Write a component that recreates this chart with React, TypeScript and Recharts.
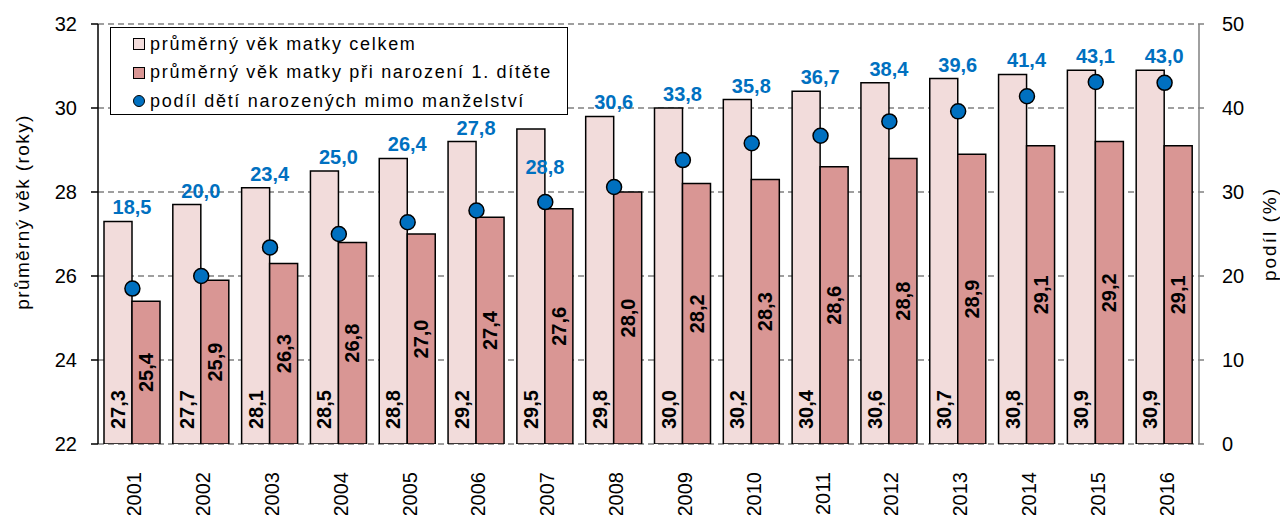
import { ComposedChart, Bar, Line, XAxis, YAxis, CartesianGrid, Legend, LabelList } from 'recharts';

const YEARS = ['2001', '2002', '2003', '2004', '2005', '2006', '2007', '2008', '2009', '2010', '2011', '2012', '2013', '2014', '2015', '2016'];
const MEAN_AGE = [27.3, 27.7, 28.1, 28.5, 28.8, 29.2, 29.5, 29.8, 30.0, 30.2, 30.4, 30.6, 30.7, 30.8, 30.9, 30.9];
const FIRST_CHILD_AGE = [25.4, 25.9, 26.3, 26.8, 27.0, 27.4, 27.6, 28.0, 28.2, 28.3, 28.6, 28.8, 28.9, 29.1, 29.2, 29.1];
const OUTSIDE_MARRIAGE = [18.5, 20.0, 23.4, 25.0, 26.4, 27.8, 28.8, 30.6, 33.8, 35.8, 36.7, 38.4, 39.6, 41.4, 43.1, 43.0];
const LEFT_TICKS = [22, 24, 26, 28, 30, 32];
const RIGHT_TICKS = [0, 10, 20, 30, 40, 50];
const EDGE_TICKS = [0, 1, 2, 3, 4, 5, 6, 7, 8, 9, 10, 11, 12, 13, 14, 15, 16];

const FONT = '"Liberation Sans", Arial, sans-serif';
const LIGHT = '#F2DCDB';
const DARK = '#D99694';
const BLUE = '#0070C0';

// legend box sits inside the plot, top left
const LEGEND_BOX = { left: 110, top: 27, width: 458, height: 88 };

const fmt = (v: number) => Number(v).toFixed(1).replace('.', ',');

const data = YEARS.map((year, i) => ({
    year,
    mean: MEAN_AGE[i],
    first: FIRST_CHILD_AGE[i],
    share: OUTSIDE_MARRIAGE[i],
}));

const LEGEND_ITEMS = [
    { label: 'průměrný věk matky celkem', kind: 'square', color: LIGHT },
    { label: 'průměrný věk matky při narození 1. dítěte', kind: 'square', color: DARK },
    { label: 'podíl dětí narozených mimo manželství', kind: 'circle', color: BLUE },
];

function renderLegend() {
    return (
        <div
            style={{
                width: LEGEND_BOX.width,
                height: LEGEND_BOX.height,
                boxSizing: 'border-box',
                border: '1.5px solid #000',
                background: '#fff',
                padding: '2px 0 0 22px',
                fontFamily: FONT,
                fontSize: 18,
                letterSpacing: 1.7,
                color: '#000',
                textAlign: 'left',
                whiteSpace: 'nowrap',
            }}
        >
            {LEGEND_ITEMS.map((item) => (
                <div key={item.label} style={{ display: 'flex', alignItems: 'center', height: 28.5 }}>
                    <span
                        style={{
                            display: 'inline-block',
                            width: 10,
                            height: 10,
                            border: '1.5px solid #000',
                            borderRadius: item.kind === 'circle' ? '50%' : 0,
                            background: item.color,
                            marginRight: 5,
                        }}
                    />
                    <span>{item.label}</span>
                </div>
            ))}
        </div>
    );
}

function MeanLabel(props: any) {
    const { x, y, width, height, value } = props;
    const cx = x + width / 2;
    const bottom = y + height - 15;
    return (
        <text transform={`translate(${cx + 7},${bottom}) rotate(-90)`} textAnchor="start" fontFamily={FONT} fontSize={20} fontWeight="bold" fill="#000">
            {fmt(value)}
        </text>
    );
}

function FirstLabel(props: any) {
    const { x, y, width, height, value } = props;
    const cx = x + width / 2;
    const cy = y + height / 2;
    return (
        <text transform={`translate(${cx + 7},${cy}) rotate(-90)`} textAnchor="middle" fontFamily={FONT} fontSize={20} fontWeight="bold" fill="#000">
            {fmt(value)}
        </text>
    );
}

function ShareLabel(props: any) {
    const { x, y, width, value } = props;
    const cx = x + width;
    let baseline = y - 7;
    // a label that would run into the legend goes just under the bar top instead
    if (cx < LEGEND_BOX.left + LEGEND_BOX.width && baseline - 15 < LEGEND_BOX.top + LEGEND_BOX.height) {
        baseline = y + 45;
    }
    return (
        <text x={cx} y={baseline} textAnchor="middle" fontFamily={FONT} fontSize={20} fontWeight="bold" fill={BLUE}>
            {fmt(value)}
        </text>
    );
}

function YearTick(props: any) {
    const { x, y, payload } = props;
    return (
        <text transform={`translate(${x + 9},${y + 20}) rotate(-90)`} textAnchor="end" fontFamily={FONT} fontSize={20} fill="#000">
            {payload.value}
        </text>
    );
}

function LeftTitle(props: any) {
    const { viewBox } = props;
    const cx = viewBox.x + 22;
    const cy = viewBox.y + viewBox.height / 2 - 22;
    return (
        <text transform={`translate(${cx + 7},${cy}) rotate(-90)`} textAnchor="middle" fontFamily={FONT} fontSize={19} letterSpacing={1.4} fill="#000">
            průměrný věk (roky)
        </text>
    );
}

function RightTitle(props: any) {
    const { viewBox } = props;
    const cx = viewBox.x + viewBox.width - 11;
    const cy = viewBox.y + viewBox.height / 2;
    return (
        <text transform={`translate(${cx + 7},${cy}) rotate(-90)`} textAnchor="middle" fontFamily={FONT} fontSize={19} letterSpacing={2} fill="#000">
            podíl (%)
        </text>
    );
}

export default function App() {
    return (
        <div style={{ position: 'absolute', left: 0, top: 0, width: 1280, height: 515, background: '#fff' }}>
            <ComposedChart width={1280} height={515} data={data} margin={{ top: 24, right: 0, bottom: 0, left: 0 }} barGap={0}>
                <CartesianGrid xAxisId="edges" yAxisId="left" vertical={false} stroke="#808080" strokeWidth={1.5} strokeDasharray="6 4" />
                <XAxis
                    xAxisId="edges"
                    type="number"
                    domain={[0, 16]}
                    ticks={EDGE_TICKS}
                    allowDataOverflow
                    height={0}
                    axisLine={{ stroke: '#000', strokeWidth: 1.5 }}
                    tickLine={{ stroke: '#000', strokeWidth: 1.5 }}
                    tickSize={6}
                    tickFormatter={() => ''}
                />
                <XAxis xAxisId="years" dataKey="year" height={71} axisLine={false} tickLine={false} tick={<YearTick />} interval={0} />
                <YAxis
                    yAxisId="left"
                    orientation="left"
                    width={98}
                    domain={[22, 32]}
                    ticks={LEFT_TICKS}
                    allowDataOverflow
                    axisLine={{ stroke: '#000', strokeWidth: 1.5 }}
                    tickLine={{ stroke: '#000', strokeWidth: 1.5 }}
                    tickSize={7}
                    tickMargin={14}
                    tick={{ fontFamily: FONT, fontSize: 20, fill: '#000' }}
                    label={{ content: LeftTitle }}
                />
                <YAxis
                    yAxisId="right"
                    orientation="right"
                    width={81}
                    domain={[0, 50]}
                    ticks={RIGHT_TICKS}
                    allowDataOverflow
                    axisLine={{ stroke: '#808080', strokeWidth: 1.5 }}
                    tickLine={{ stroke: '#808080', strokeWidth: 1.5 }}
                    tickSize={5}
                    tickMargin={18}
                    tick={{ fontFamily: FONT, fontSize: 20, fill: '#000', textAnchor: 'start' }}
                    label={{ content: RightTitle }}
                />
                <Legend
                    layout="vertical"
                    align="center"
                    verticalAlign="middle"
                    content={renderLegend}
                    wrapperStyle={{ position: 'absolute', top: LEGEND_BOX.top, left: LEGEND_BOX.left, width: LEGEND_BOX.width, height: LEGEND_BOX.height }}
                />
                <Bar xAxisId="years" yAxisId="left" dataKey="mean" name="průměrný věk matky celkem" fill={LIGHT} stroke="#000" strokeWidth={1.5} barSize={28} isAnimationActive={false}>
                    <LabelList dataKey="mean" content={MeanLabel} />
                    <LabelList dataKey="share" content={ShareLabel} />
                </Bar>
                <Bar xAxisId="years" yAxisId="left" dataKey="first" name="průměrný věk matky při narození 1. dítěte" fill={DARK} stroke="#000" strokeWidth={1.5} barSize={28} isAnimationActive={false}>
                    <LabelList dataKey="first" content={FirstLabel} />
                </Bar>
                <Line
                    xAxisId="years"
                    yAxisId="right"
                    dataKey="share"
                    name="podíl dětí narozených mimo manželství"
                    stroke="none"
                    dot={{ r: 7.5, fill: BLUE, stroke: '#000', strokeWidth: 1.5 }}
                    activeDot={false}
                    isAnimationActive={false}
                />
            </ComposedChart>
        </div>
    );
}
